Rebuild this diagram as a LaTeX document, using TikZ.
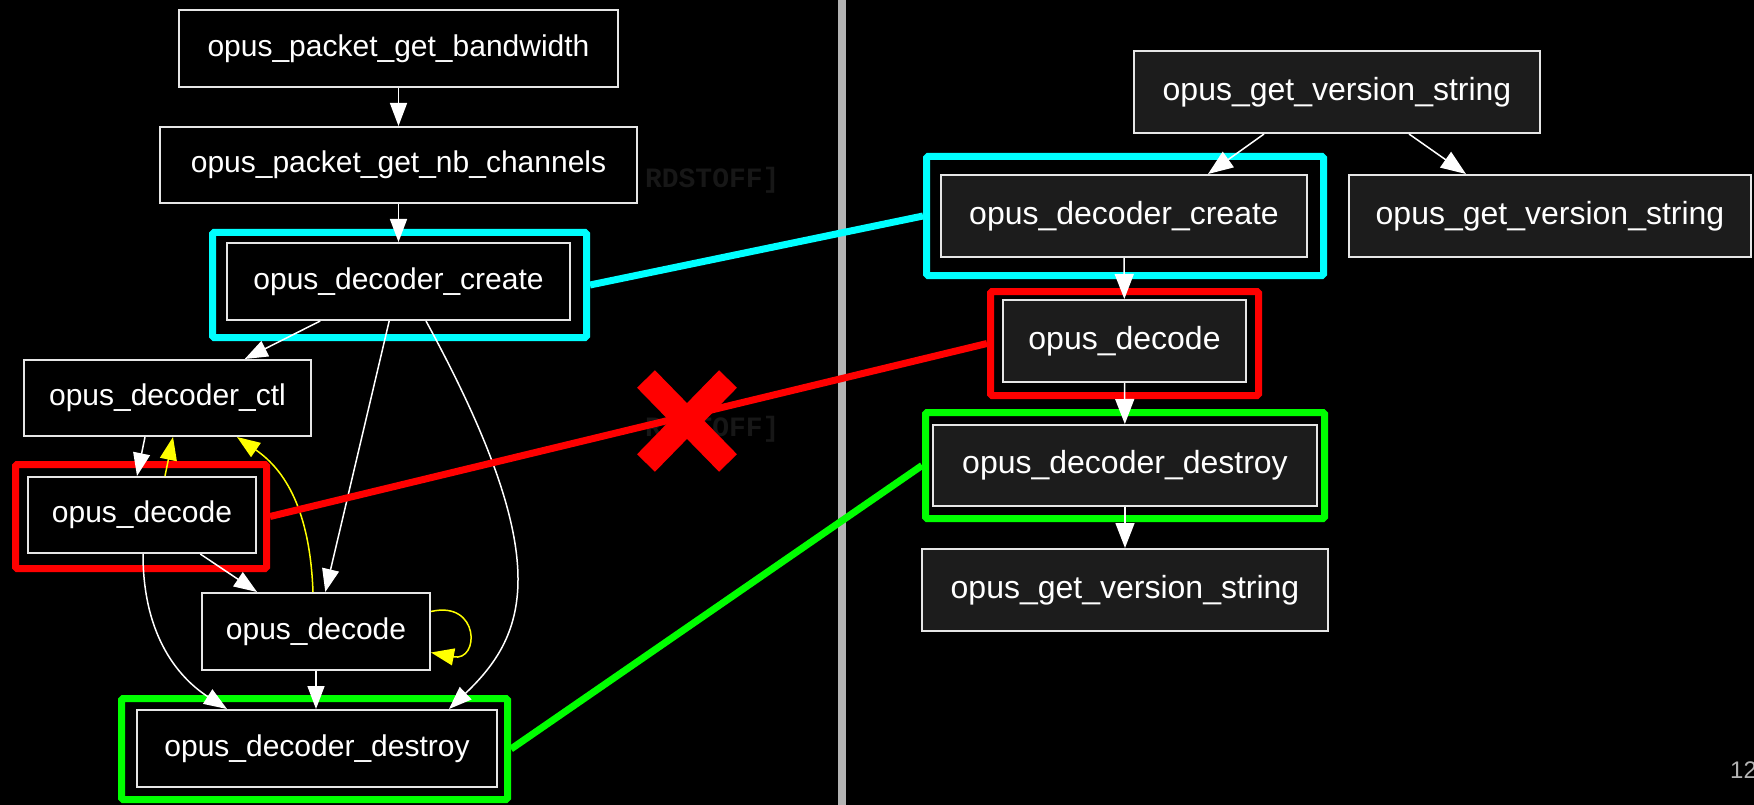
\documentclass[tikz,border=0pt]{standalone}
\usepackage{xcolor}
\usepackage{fontspec}
\setmainfont{Liberation Sans}
\newfontfamily\faintmono{Liberation Mono}
\usepackage{tikz}
\usetikzlibrary{shapes,arrows.meta,positioning,calc}

\definecolor{panelgray}{HTML}{1C1C1C}
\definecolor{sepgray}{HTML}{B3B3B3}
\definecolor{faintgray}{HTML}{171717}
\definecolor{boxline}{HTML}{E6E6E6}
\definecolor{hlcyan}{HTML}{00FFFF}
\definecolor{hlred}{HTML}{FF0000}
\definecolor{hlgreen}{HTML}{00FF00}
\definecolor{backyellow}{HTML}{FFFF00}

\begin{document}
\begin{tikzpicture}[x=1pt, y=-1pt,
    fn/.style={draw=boxline, line width=2pt, fill=black, text=white, inner sep=0pt,
      font=\fontsize{30}{36}\selectfont},
    fnr/.style={fn, fill=panelgray, font=\fontsize{32}{38}\selectfont},
    hl/.style={draw=#1, line width=7pt, rounded corners=1.5pt, inner sep=0pt},
    call/.style={draw=white, line width=1.5pt, -{Triangle[length=23pt,width=17pt]}},
    callr/.style={call, -{Triangle[length=25pt,width=19pt]}},
    back/.style={call, draw=backyellow},
    link/.style={draw=#1, line width=7pt},
    faint/.style={anchor=base east, text=faintgray, font=\faintmono\bfseries\fontsize{28}{30}\selectfont}]
  \useasboundingbox[fill=black] (0,0) rectangle (1754,805);

  % Separator and faint slide text
  \draw[sepgray, line width=8pt] (842,0) -- (842,805);
  \node[faint] (faintA) at (783,188) {RDSTOFF]};
  \node[faint] (faintB) at (783,436) {RDSTOFF]};

  % Left graph
  \node[fn, minimum width=439pt, minimum height=77pt] (bw) at (398.5,48.5) {opus\_packet\_get\_bandwidth};
  \node[fn, minimum width=477pt, minimum height=76pt] (nbc) at (398.5,165) {opus\_packet\_get\_nb\_channels};
  \node[fn, minimum width=343pt, minimum height=77pt] (lcreate) at (398.5,281.5) {opus\_decoder\_create};
  \node[fn, minimum width=287pt, minimum height=76pt] (ctl) at (167.5,398) {opus\_decoder\_ctl};
  \node[fn, minimum width=228pt, minimum height=76pt] (ldec) at (142,515) {opus\_decode};
  \node[fn, minimum width=228pt, minimum height=77pt] (mdec) at (316,631.5) {opus\_decode};
  \node[fn, minimum width=360pt, minimum height=77pt] (ldes) at (317,748.5) {opus\_decoder\_destroy};

  % Right graph
  \node[fnr, minimum width=406pt, minimum height=82pt] (rtop) at (1337,92) {opus\_get\_version\_string};
  \node[fnr, minimum width=366pt, minimum height=82pt] (rcreate) at (1124,216) {opus\_decoder\_create};
  \node[fnr, minimum width=402pt, minimum height=82pt] (rver) at (1550,216) {opus\_get\_version\_string};
  \node[fnr, minimum width=243pt, minimum height=82pt] (rdec) at (1124.5,341) {opus\_decode};
  \node[fnr, minimum width=384pt, minimum height=81pt] (rdes) at (1125,465.5) {opus\_decoder\_destroy};
  \node[fnr, minimum width=406pt, minimum height=82pt] (rlast) at (1125,590) {opus\_get\_version\_string};

  % Highlight frames
  \node[hl=hlcyan, minimum width=374pt, minimum height=105pt] (lcreatehl) at (399.5,285) {};
  \node[hl=hlred, minimum width=251pt, minimum height=104pt] (ldechl) at (141,516.5) {};
  \node[hl=hlgreen, minimum width=386pt, minimum height=101pt] (ldeshl) at (314.5,749) {};
  \node[hl=hlcyan, minimum width=397pt, minimum height=119pt] (rcreatehl) at (1125,216) {};
  \node[hl=hlred, minimum width=268pt, minimum height=104pt] (rdechl) at (1124.5,343.5) {};
  \node[hl=hlgreen, minimum width=399pt, minimum height=106pt] (rdeshl) at (1125,465.5) {};

  % Left calls
  \draw[call] (bw) -- (nbc);
  \draw[call] (nbc) -- (lcreate);
  \draw[call] (lcreate) -- (ctl);
  \draw[call] (lcreate) -- (mdec);
  \draw[call] ($(lcreate.south)+(27.5,0)$) .. controls (555,558) and (529,633) .. ($(ldes.north)+(132,0)$);
  \draw[call] ($(ctl.south)+(-22.5,0)$) -- ($(ldec.north)+(-5,0)$);
  \draw[back] ($(ldec.north)+(23,0)$) -- ($(ctl.south)+(5.5,0)$);
  \draw[call] (ldec) -- (mdec);
  \draw[call] ($(ldec.south)+(1,0)$) .. controls (143,640) and (182,680) .. ($(ldes.north)+(-90,0)$);
  \draw[back] ($(mdec.north)+(-3,0)$) .. controls (310,510) and (285,470) .. ($(ctl.south)+(69.5,0)$);
  \draw[back] ($(mdec.east)+(0,-20)$) .. controls (480,600) and (480,662) .. ($(mdec.east)+(0,21)$);
  \draw[call] (mdec) -- (mdec.south |- ldes.north);

  % Right calls
  \draw[callr] ($(rtop.south)+(-73,0)$) -- ($(rcreate.north)+(84,0)$);
  \draw[callr] ($(rtop.south)+(72,0)$) -- ($(rver.north)+(-84,0)$);
  \draw[callr] (rcreate) -- (rdec);
  \draw[callr] (rdec) -- (rdes);
  \draw[callr] (rdes) -- (rlast);

  % Matching links
  \draw[link=hlcyan] (lcreatehl.east) -- (rcreatehl.west);
  \draw[link=hlred] (ldechl.east) -- (rdechl.west);
  \draw[link=hlgreen] (ldeshl.east) -- (rdeshl.west);

  % Red cross
  \coordinate (cross) at (687,421);
  \draw[hlred, line width=25pt] ($(cross)+(-41,-42)$) -- ($(cross)+(41,42)$);
  \draw[hlred, line width=25pt] ($(cross)+(41,-42)$) -- ($(cross)+(-41,42)$);

  % Page number
  \node[anchor=base west, text=sepgray, inner sep=0pt, font=\fontsize{24}{28}\selectfont] (pagenum) at (1730,778) {12};
\end{tikzpicture}
\end{document}
